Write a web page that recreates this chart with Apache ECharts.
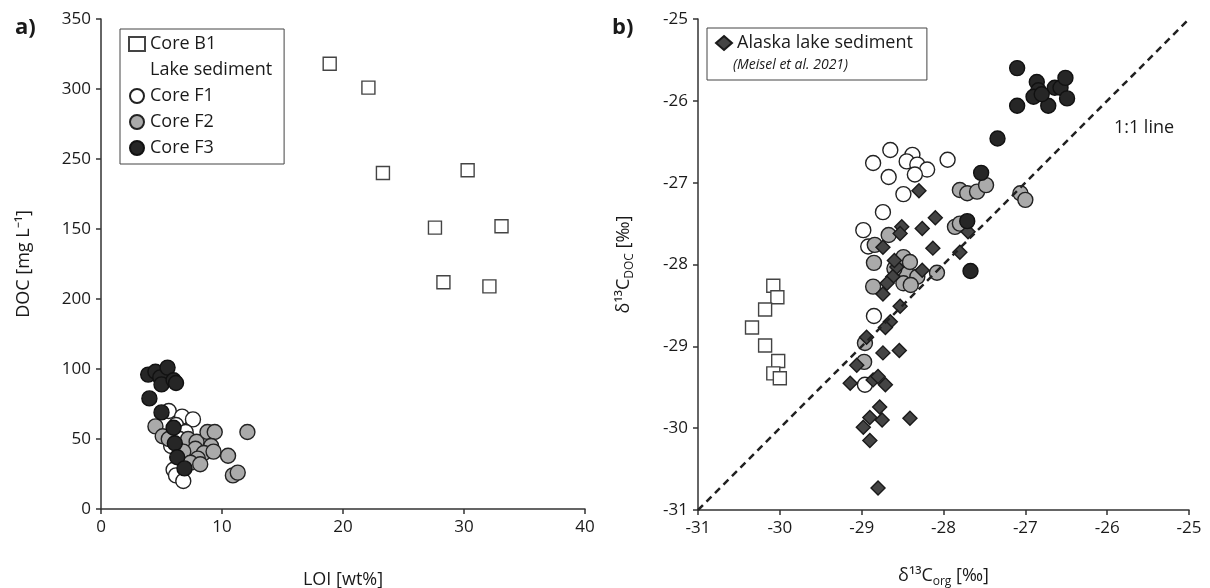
<!DOCTYPE html>
<html lang="en">
<head>
	<meta charset="UTF-8">
	<title>DOC vs LOI and d13C</title>
	<script src="https://cdn.jsdelivr.net/npm/echarts@6/dist/echarts.min.js"></script>
	<style>
		html, body { margin: 0; padding: 0; background: #fff; }
	</style>
</head>
<body>
	<div id="main" style="width: 1210px; height: 588px;"></div>
	<script>
		// panel a: [LOI wt%, DOC mg/L]
		const loiB1 = [[18.9, 318], [22.1, 301], [23.3, 240], [30.3, 242], [27.6, 201], [33.1, 202], [28.3, 162], [32.1, 159]]
		const loiF1 = [[5.6, 70], [6.7, 66], [7.6, 64], [6.2, 60], [7.0, 55], [6.5, 50], [5.8, 45], [7.0, 44],
			[6.5, 32], [7.3, 35], [6.0, 28], [6.2, 24], [6.8, 20]]
		const loiF2 = [[4.5, 59], [5.1, 52], [5.6, 50], [7.2, 50], [7.9, 48], [8.8, 55], [9.4, 55], [12.1, 55],
			[9.1, 45], [7.8, 43], [8.5, 40], [9.3, 41], [6.8, 41], [8.0, 36], [7.4, 33], [8.2, 32],
			[10.5, 38], [10.9, 24], [11.3, 26]]
		const loiF3 = [[3.9, 96], [4.5, 98], [4.9, 94], [5.5, 101], [5.0, 89], [6.0, 92], [6.2, 90],
			[4.0, 79], [5.0, 69], [6.0, 58], [6.1, 47], [6.3, 37], [6.9, 29]]
		// y tick labels as printed in the figure
		const docTicks = {0: '0', 50: '50', 100: '100', 150: '200', 200: '150', 250: '250', 300: '300', 350: '350'}

		// panel b: [d13C org, d13C DOC]
		const isoB1 = [[-30.08, -28.26], [-30.03, -28.40], [-30.18, -28.55], [-30.34, -28.77],
			[-30.18, -28.99], [-30.02, -29.18], [-30.08, -29.33], [-30.00, -29.39]]
		const isoF1 = [[-28.65, -26.60], [-28.86, -26.76], [-28.67, -26.93], [-28.38, -26.66], [-28.45, -26.74],
			[-28.32, -26.78], [-28.20, -26.84], [-28.35, -26.90], [-27.95, -26.72], [-28.49, -27.14],
			[-28.74, -27.36], [-28.98, -27.58], [-28.92, -27.78], [-28.85, -28.63], [-28.96, -29.47]]
		const isoF2 = [[-28.84, -27.76], [-28.67, -27.64], [-28.85, -27.98], [-28.49, -27.91], [-28.45, -28.11],
			[-28.49, -28.23], [-28.86, -28.27], [-28.41, -27.97], [-28.32, -28.15], [-28.08, -28.10],
			[-27.80, -27.09], [-27.71, -27.13], [-27.59, -27.11], [-27.48, -27.03], [-27.06, -27.13],
			[-27.00, -27.21], [-27.86, -27.54], [-27.80, -27.50], [-28.96, -28.96], [-28.97, -29.19],
			[-28.60, -28.05], [-28.40, -28.25]]
		const isoF3 = [[-27.10, -25.60], [-26.86, -25.77], [-26.84, -25.87], [-26.90, -25.95], [-27.10, -26.06],
			[-26.72, -26.06], [-26.64, -25.84], [-26.57, -25.84], [-26.51, -25.72], [-26.49, -25.97],
			[-26.80, -25.92], [-27.34, -26.46], [-27.54, -26.88], [-27.71, -27.47], [-27.67, -28.08]]
		const isoAlaska = [[-28.30, -27.10], [-28.51, -27.54], [-28.53, -27.62], [-28.74, -27.79], [-28.57, -28.03],
			[-28.62, -28.15], [-28.69, -28.23], [-28.74, -28.36], [-28.10, -27.43], [-28.26, -27.56],
			[-28.13, -27.80], [-27.80, -27.85], [-27.70, -27.60], [-28.26, -28.07], [-28.53, -28.51],
			[-28.65, -28.70], [-28.71, -28.77], [-28.94, -28.89], [-28.74, -29.08], [-28.54, -29.05],
			[-29.06, -29.23], [-29.14, -29.45], [-28.86, -29.41], [-28.80, -29.37], [-28.71, -29.47],
			[-28.78, -29.74], [-28.90, -29.87], [-28.75, -29.90], [-28.98, -29.99], [-28.90, -30.15],
			[-28.41, -29.88], [-28.80, -30.73], [-28.60, -27.95]]
		const oneToOne = [[-31, -31], [-25, -25]]

		const font = 'Open Sans'
		const ink = '#1a1a1a'
		const axisLine = {lineStyle: {color: '#333', width: 1.5}}
		const axisTick = {show: true, length: 5, lineStyle: {color: '#333', width: 1.5}}
		const axisLabel = {color: ink, fontSize: 17, fontFamily: font, margin: 10}

		function scatter (name, data, xi, symbol, size, fill, stroke) {
			return {
				name: name,
				type: 'scatter',
				xAxisIndex: xi,
				yAxisIndex: xi,
				data: data,
				symbol: symbol,
				symbolSize: size,
				itemStyle: {color: fill, borderColor: stroke, borderWidth: 1.4, opacity: 1},
				emphasis: {disabled: true}
			}
		}

		const chart = echarts.init(document.getElementById('main'))
		const option = {
			animation: false,
			textStyle: {fontFamily: font},
			title: [
				{text: 'a)', left: 10, top: 12, textStyle: {fontSize: 22, fontWeight: 'bold', color: ink, fontFamily: font}},
				{text: 'b)', left: 607, top: 12, textStyle: {fontSize: 22, fontWeight: 'bold', color: ink, fontFamily: font}}
			],
			legend: [
				{
					orient: 'vertical',
					left: 120,
					top: 29,
					padding: [6, 12, 7, 8],
					itemGap: 8,
					itemWidth: 16,
					itemHeight: 14,
					borderColor: '#444',
					borderWidth: 1,
					textStyle: {color: ink, fontSize: 18, fontFamily: font},
					data: [
						'Core B1',
						{name: 'Lake sediment', itemStyle: {color: 'transparent', borderWidth: 0}},
						'Core F1',
						'Core F2',
						'Core F3'
					]
				},
				{
					orient: 'vertical',
					left: 707,
					top: 28,
					padding: [6, 14, 28, 8],
					itemWidth: 16,
					itemHeight: 14,
					borderColor: '#444',
					borderWidth: 1,
					textStyle: {color: ink, fontSize: 18, fontFamily: font},
					data: ['Alaska lake sediment']
				}
			],
			graphic: [
				{type: 'text', left: 733, top: 58, style: {text: '(Meisel et al. 2021)', fontSize: 14, fontStyle: 'italic', fill: ink, fontFamily: font}}
			],
			grid: [
				{left: 101, right: 625, top: 19, bottom: 79, outerBoundsMode: 'none'},
				{left: 698, right: 21, top: 19, bottom: 78, outerBoundsMode: 'none'}
			],
			xAxis: [
				{
					gridIndex: 0, type: 'value', min: 0, max: 40, interval: 10,
					name: 'LOI [wt%]', nameLocation: 'middle', nameGap: 62,
					nameTextStyle: {color: ink, fontSize: 18, fontFamily: font},
					axisLine: axisLine, axisTick: axisTick, axisLabel: axisLabel, splitLine: {show: false}
				},
				{
					gridIndex: 1, type: 'value', min: -31, max: -25, interval: 1,
					name: '{d|δ¹³C}{s|org}{d| [‰]}', nameLocation: 'middle', nameGap: 54,
					nameTextStyle: {
						color: ink, fontFamily: font,
						rich: {
							d: {fontSize: 18, color: ink, fontFamily: font, lineHeight: 24},
							s: {fontSize: 12, color: ink, fontFamily: font, lineHeight: 24, verticalAlign: 'bottom'}
						}
					},
					axisLine: axisLine, axisTick: axisTick, axisLabel: axisLabel, splitLine: {show: false}
				}
			],
			yAxis: [
				{
					gridIndex: 0, type: 'value', min: 0, max: 350, interval: 50,
					name: 'DOC [mg L⁻¹]', nameLocation: 'middle', nameGap: 68,
					nameTextStyle: {color: ink, fontSize: 18, fontFamily: font},
					axisLine: axisLine, axisTick: axisTick,
					axisLabel: Object.assign({}, axisLabel, {formatter: function (v) { return docTicks[v] }}),
					splitLine: {show: false}
				},
				{
					gridIndex: 1, type: 'value', min: -31, max: -25, interval: 1,
					name: '{d|δ¹³C}{s|DOC}{d| [‰]}', nameLocation: 'middle', nameGap: 62,
					nameTextStyle: {
						color: ink, fontFamily: font,
						rich: {
							d: {fontSize: 18, color: ink, fontFamily: font, lineHeight: 24},
							s: {fontSize: 12, color: ink, fontFamily: font, lineHeight: 24, verticalAlign: 'bottom'}
						}
					},
					axisLine: axisLine, axisTick: axisTick, axisLabel: axisLabel, splitLine: {show: false}
				}
			],
			series: [
				scatter('Core B1', loiB1, 0, 'rect', 13, '#fff', '#444'),
				scatter('Lake sediment', [], 0, 'rect', 13, 'transparent', 'transparent'),
				scatter('Core F1', loiF1, 0, 'circle', 15, '#fff', '#222'),
				scatter('Core F2', loiF2, 0, 'circle', 15, '#aaa', '#222'),
				scatter('Core F3', loiF3, 0, 'circle', 15, '#262626', '#111'),
				{
					type: 'line',
					xAxisIndex: 1,
					yAxisIndex: 1,
					data: oneToOne,
					symbol: 'none',
					silent: true,
					lineStyle: {color: '#222', width: 2.5, type: [7, 5]},
					markPoint: {
						symbol: 'rect',
						symbolSize: 1,
						itemStyle: {color: 'transparent'},
						label: {show: true, formatter: '1:1 line', color: ink, fontSize: 18, fontFamily: font},
						data: [{coord: [-25.55, -26.33]}]
					}
				},
				scatter('Core B1', isoB1, 1, 'rect', 13, '#fff', '#444'),
				scatter('Core F1', isoF1, 1, 'circle', 15, '#fff', '#222'),
				scatter('Core F2', isoF2, 1, 'circle', 15, '#aaa', '#222'),
				scatter('Alaska lake sediment', isoAlaska, 1, 'diamond', 14, '#444', '#1a1a1a'),
				scatter('Core F3', isoF3, 1, 'circle', 15, '#262626', '#111')
			]
		}
		chart.setOption(option)
	</script>
</body>
</html>
